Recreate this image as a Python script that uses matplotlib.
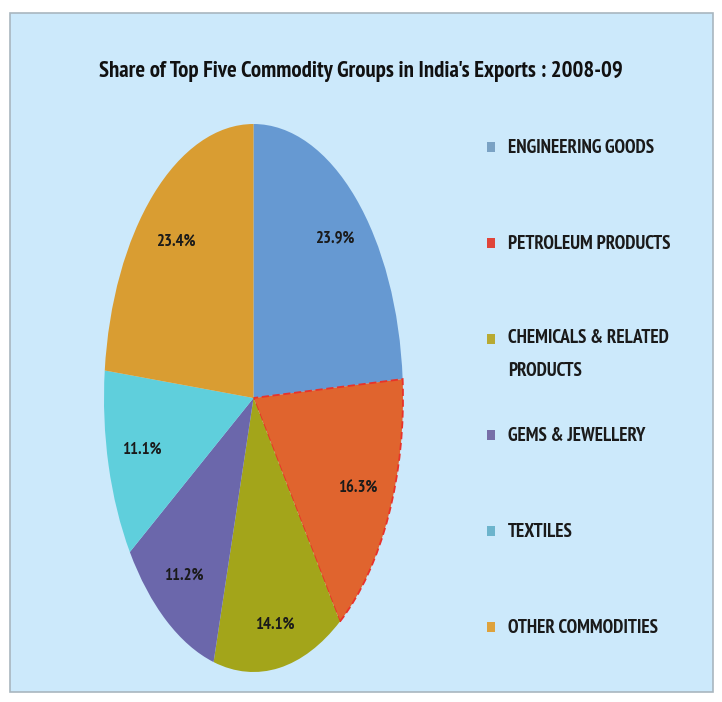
import matplotlib
matplotlib.use("Agg")
import matplotlib.pyplot as plt
from matplotlib.patches import Rectangle
import numpy as np

title = "Share of Top Five Commodity Groups in India's Exports : 2008-09"
categories = ["ENGINEERING GOODS", "PETROLEUM PRODUCTS", "CHEMICALS & RELATED\nPRODUCTS",
              "GEMS & JEWELLERY", "TEXTILES", "OTHER COMMODITIES"]
shares = [23.9, 16.3, 14.1, 11.2, 11.1, 23.4]
pct_labels = ["23.9%", "16.3%", "14.1%", "11.2%", "11.1%", "23.4%"]
colors = ["#6699d2", "#e0642e", "#a3a51a", "#6b67ab", "#5fcfdc", "#d99d32"]
swatch_colors = ["#7aa2c4", "#e0453a", "#b8aa32", "#776fa8", "#6cb4cc", "#dea23c"]

BOLD_FONT = ["PT Sans Narrow", "Archivo Narrow", "Liberation Sans"]
W, H = 722, 702
fig = plt.figure(figsize=(W / 100, H / 100), dpi=100, facecolor="white")

def fx(px):
    return px / W

def fy(py):
    return 1 - py / H

# light blue panel
fig.add_artist(Rectangle((fx(10), fy(692)), fx(713) - fx(10), fy(13) - fy(692),
                         transform=fig.transFigure, facecolor="#cce9fb",
                         edgecolor="#a9b6bf", lw=1.2, zorder=0))

fig.text(fx(361), fy(72), title, ha="center", va="center", fontsize=16.4,
         fontweight="bold", family=BOLD_FONT, color="#111111")

# pie (elliptical)
ax = fig.add_axes([fx(104), fy(672), fx(403) - fx(104), fy(124) - fy(672)])
ax.set_facecolor("none")
wedges, _ = ax.pie(shares, colors=colors, startangle=90, counterclock=False,
                   wedgeprops=dict(linewidth=0))
ax.set_aspect("auto")
ax.set_xlim(-1, 1)
ax.set_ylim(-1, 1)
ax.axis("off")

# dashed red outline on petroleum wedge
wedges[1].set_edgecolor("#e8322a")
wedges[1].set_linewidth(1.3)
wedges[1].set_linestyle((0, (4, 2)))

for w_, lab, r in zip(wedges, pct_labels, [0.8, 0.77, 0.84, 0.8, 0.77, 0.77]):
    mid = np.deg2rad(0.5 * (w_.theta1 + w_.theta2))
    ax.text(r * np.cos(mid), r * np.sin(mid), lab, ha="center", va="center",
            fontsize=12, fontweight="bold", family=BOLD_FONT, color="#1a1a1a")

# legend
line_gap = 31
for i, (lab, c) in enumerate(zip(categories, swatch_colors)):
    yc = 147 + i * 96
    fig.add_artist(Rectangle((fx(487), fy(yc + 5)), fx(8), fy(0) - fy(10),
                             transform=fig.transFigure, facecolor=c, edgecolor="none"))
    nl = lab.count("\n")
    fig.text(fx(508), fy(yc + 6 + nl * line_gap), lab, ha="left", va="baseline",
             fontsize=13.8, fontweight="bold", family=BOLD_FONT, color="#1a1a1a",
             linespacing=2.07)

fig.savefig("out.png", dpi=100, facecolor="white")
